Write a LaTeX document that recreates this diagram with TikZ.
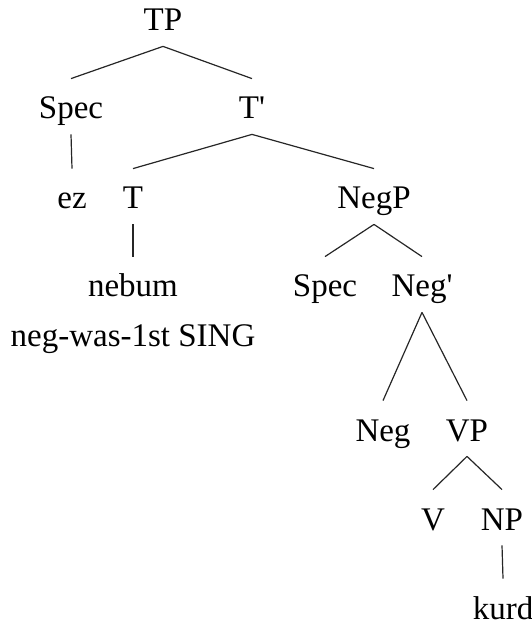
\documentclass[tikz,border=0pt]{standalone}
\usepackage{fontspec}
\setmainfont{Liberation Serif}
\usepackage{tikz}
\tikzstyle{cat}=[anchor=base, inner xsep=2pt, inner ysep=4pt, text height=16pt, text depth=3.5pt, font=\fontsize{16.5}{20}\selectfont]
\tikzstyle{branch}=[line width=0.6pt, color=black!85]

\begin{document}
\begin{tikzpicture}[x=0.5pt, y=-0.5pt] % TP tree
    \useasboundingbox (0,0) rectangle (531,625);

    % the categories, at their baselines
    \node[cat] (tp) at (163,31) {TP};
    \node[cat] (spec1) at (71,119) {Spec};
    \node[cat] (tbar) at (252,119) {T\textquotesingle};
    \node[cat] (ez) at (72,209) {ez};
    \node[cat] (t) at (133,209) {T};
    \node[cat] (negp) at (374,209) {NegP};
    \node[cat] (nebum) at (133,297) {nebum};
    \node[cat] (gloss) at (133,346) {neg-was-1st SING};
    \node[cat] (spec2) at (325,297) {Spec};
    \node[cat] (negbar) at (422,297) {Neg\textquotesingle};
    \node[cat] (neg) at (383,441) {Neg};
    \node[cat] (vp) at (467,441) {VP};
    \node[cat] (v) at (433,530) {V};
    \node[cat] (np) at (502,530) {NP};
    \node[cat] (kurd) at (503,619) {kurd};

    % branches, mother/daughter
    \foreach \m/\d in {tp/spec1, tp/tbar, spec1/ez, tbar/t, tbar/negp,
                       t/nebum, negp/spec2, negp/negbar, negbar/neg,
                       negbar/vp, vp/v, vp/np, np/kurd}
    \draw[branch] (\m.south) -- (\d.north);

\end{tikzpicture}
\end{document}
